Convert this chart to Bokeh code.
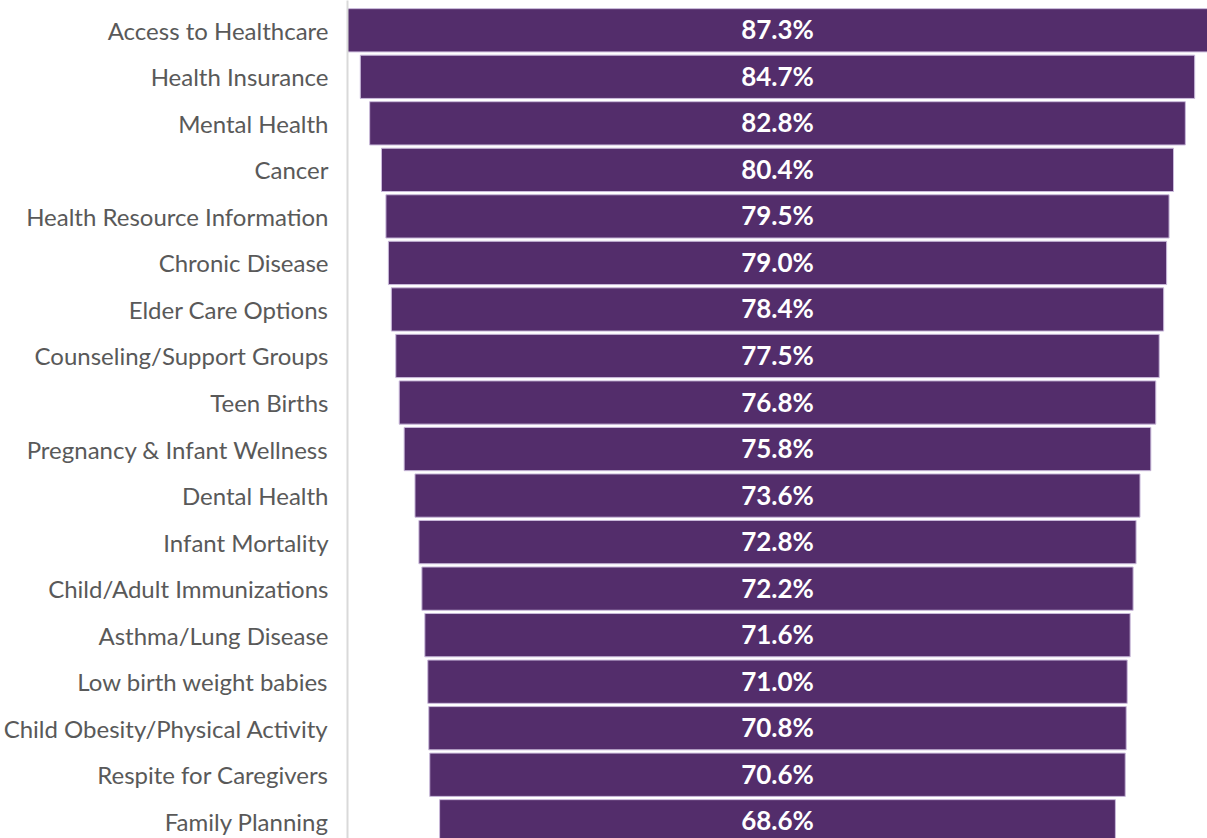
from bokeh.plotting import figure
from bokeh.models import ColumnDataSource, Range1d, FixedTicker, LabelSet
from bokeh.core.properties import value
from bokeh.embed import file_html
from bokeh.resources import INLINE

categories = ["Access to Healthcare", "Health Insurance", "Mental Health", "Cancer",
              "Health Resource Information", "Chronic Disease", "Elder Care Options",
              "Counseling/Support Groups", "Teen Births", "Pregnancy & Infant Wellness",
              "Dental Health", "Infant Mortality", "Child/Adult Immunizations",
              "Asthma/Lung Disease", "Low birth weight babies",
              "Child Obesity/Physical Activity", "Respite for Caregivers", "Family Planning"]
values = [87.3, 84.7, 82.8, 80.4, 79.5, 79.0, 78.4, 77.5, 76.8, 75.8,
          73.6, 72.8, 72.2, 71.6, 71.0, 70.8, 70.6, 68.6]

pos = list(range(len(categories)))
src = ColumnDataSource(dict(
    y=pos,
    left=[-v / 2 for v in values],
    right=[v / 2 for v in values],
    zero=[0] * len(values),
    lab=[f"{v:.1f}%" for v in values],
))

vmax = max(values)
p = figure(width=1207, height=838, output_backend="svg", toolbar_location=None,
           x_range=Range1d(-vmax / 2, vmax / 2), y_range=Range1d(17.37, -0.64),
           min_border_left=346, min_border_right=0, min_border_top=0, min_border_bottom=0)

p.hbar(y="y", left="left", right="right", height=0.93, source=src,
       fill_color="#532D6B", line_color="#C9B9DA", line_width=1)

labels = LabelSet(x="zero", y="y", text="lab", source=src, text_align="center",
                  text_baseline="middle", text_color="white", text_font=value("Lato"),
                  text_font_style="bold", text_font_size="26px", y_offset=1)
p.add_layout(labels)

p.xaxis.visible = False
p.xgrid.visible = False
p.ygrid.visible = False
p.outline_line_color = None

ax = p.yaxis[0]
ax.ticker = FixedTicker(ticks=pos)
ax.major_label_overrides = {i: c for i, c in zip(pos, categories)}
ax.major_tick_line_color = None
ax.minor_tick_line_color = None
ax.axis_line_color = "#D9D9D9"
ax.axis_line_width = 2
ax.major_label_text_font = "Lato"
ax.major_label_text_font_size = "24px"
ax.major_label_text_color = "#595959"
ax.major_label_standoff = 13

open("out.html", "w").write(file_html(p, INLINE))
